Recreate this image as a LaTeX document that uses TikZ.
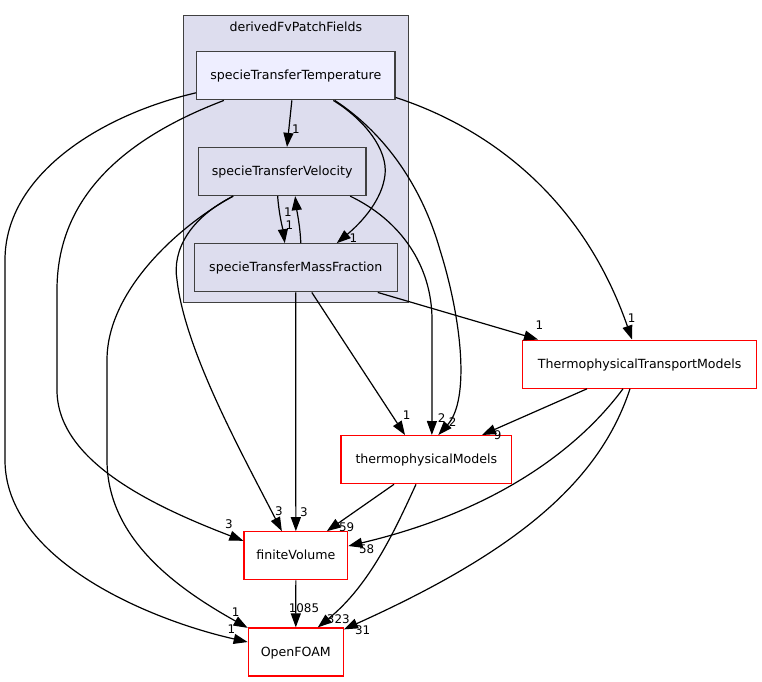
\documentclass[tikz,border=0pt]{standalone}
\usepackage{fontspec}
\setmainfont{DejaVu Sans}
\usetikzlibrary{arrows.meta}
\definecolor{clfill}{HTML}{DDDDEE}
\definecolor{clborder}{HTML}{404040}
\definecolor{topfill}{HTML}{EEEEFF}
\tikzset{
  box/.style={draw, line width=1.3pt, inner sep=0pt, minimum height=48pt,
    font=\fontsize{12.6}{14}\selectfont, text height=9.5pt, text depth=1.3pt},
  inbox/.style={box, draw=clborder, fill=clfill},
  redbox/.style={box, draw=red, fill=white},
  e/.style={draw=black, line width=1.2pt, -{Triangle[length=14pt,width=10pt]}},
  lbl/.style={inner sep=0pt, font=\fontsize{11.9}{13}\selectfont}
}
\begin{document}
\begin{tikzpicture}[x=1pt,y=-1pt]
\useasboundingbox (0,0) rectangle (762,681);
% cluster
\node[draw=clborder, fill=clfill, line width=1.3pt, minimum width=225pt, minimum height=286.6pt, inner sep=0pt] (cl) at (295.8,159) {};
\node[anchor=base, inner sep=0pt, font=\fontsize{12.6}{14}\selectfont] (cllbl) at (295.8,31) {derivedFvPatchFields};
% nodes
\node[inbox, fill=topfill, minimum width=198.3pt] (T) at (295.85,75.8) {specieTransferTemperature};
\node[inbox, minimum width=167.7pt] (V) at (282.15,171.5) {specieTransferVelocity};
\node[inbox, minimum width=203pt] (M) at (295.8,267.8) {specieTransferMassFraction};
\node[redbox, minimum width=234pt] (TTM) at (639.7,364.15) {ThermophysicalTransportModels};
\node[redbox, minimum width=170.7pt] (tM) at (426.35,459.65) {thermophysicalModels};
\node[redbox, minimum width=103.7pt] (fV) at (295.85,555.8) {finiteVolume};
\node[redbox, minimum width=95pt] (OF) at (295.8,652) {OpenFOAM};
% edges
\draw[e] ([xshift=-4pt]T.south) -- ([xshift=4.85pt]V.north);
\draw[e] ([xshift=-4.5pt]V.south) .. controls (279,215) and (283,230) .. ([xshift=-11pt]M.north);
\draw[e] ([xshift=5pt]M.north) .. controls (300,225) and (297,212) .. ([xshift=13pt]V.south);
\draw[e] ([xshift=37.5pt]T.south) .. controls (365,120) and (388,150) .. (385,175) .. controls (382,200) and (362,222) .. ([xshift=41pt]M.north);
\draw[e] ([xshift=39pt]T.south) .. controls (380,130) and (420,180) .. (440,250) .. controls (462,320) and (470,400) .. ([xshift=12pt]tM.north);
\draw[e] ([xshift=68pt]V.south) .. controls (400,220) and (432,265) .. (432,320) .. controls (432,370) and (432,400) .. ([xshift=5.5pt]tM.north);
\draw[e] ([yshift=3pt]T.south east) .. controls (480,125) and (580,190) .. ([xshift=-7.7pt]TTM.north);
\draw[e] ([xshift=82pt]M.south) -- ([xshift=-101.7pt]TTM.north);
\draw[e] ([xshift=16pt]M.south) -- ([xshift=-21.35pt]tM.north);
\draw[e] (M.south) -- (fV.north);
\draw[e] ([xshift=-52.7pt]TTM.south) -- ([xshift=55.65pt]tM.north);
\draw[e] ([xshift=-16.7pt]TTM.south) .. controls (570,460) and (480,515) .. ([yshift=9.8pt]fV.east);
\draw[e] ([xshift=-9.7pt]TTM.south) .. controls (600,480) and (520,550) .. ([yshift=-2pt]OF.north east);
\draw[e] ([xshift=-32.35pt]tM.south) -- ([xshift=31pt]fV.north);
\draw[e] ([xshift=-10.35pt]tM.south) .. controls (395,530) and (370,585) .. ([xshift=22pt]OF.north);
\draw[e] (fV.south) -- (OF.north);
\draw[e] ([xshift=-72pt]T.south) .. controls (120,140) and (57,200) .. (57,290) -- (57,390) .. controls (57,460) and (150,505) .. ([yshift=15pt]fV.west);
\draw[e] ([yshift=-17pt]T.west) .. controls (100,115) and (5,175) .. (5,260) -- (5,460) .. controls (5,560) and (150,620) .. ([yshift=10pt]OF.west);
\draw[e] ([xshift=-49pt]V.south) .. controls (180,225) and (107,290) .. (107,360) -- (107,460) .. controls (107,540) and (180,590) .. ([yshift=-0.5pt]OF.north west);
\draw[e] ([xshift=-49pt]V.south) .. controls (190,218) and (172,250) .. (177,280) .. controls (185,350) and (240,450) .. ([xshift=-14pt]fV.north);
% labels
\node[lbl] (l1) at (296,129.3) {1};
\node[lbl] (l2) at (288,212) {1};
\node[lbl] (l3) at (289.5,225.5) {1};
\node[lbl] (l4) at (353.3,238.3) {1};
\node[lbl] (l5) at (441.7,418.3) {2};
\node[lbl] (l6) at (452.7,421.7) {2};
\node[lbl] (l7) at (631.7,318.3) {1};
\node[lbl] (l8) at (539.3,325.3) {1};
\node[lbl] (l9) at (406.7,415) {1};
\node[lbl] (l10) at (304,512.3) {3};
\node[lbl] (l11) at (497.7,435) {9};
\node[lbl] (l12) at (366.7,549.3) {58};
\node[lbl] (l13) at (362.7,630) {31};
\node[lbl] (l14) at (346.7,526.7) {59};
\node[lbl] (l15) at (338.3,619.3) {323};
\node[lbl] (l16) at (304,608.3) {1085};
\node[lbl] (l17) at (229,524.3) {3};
\node[lbl] (l18) at (279,511) {3};
\node[lbl] (l19) at (235.7,611.7) {1};
\node[lbl] (l20) at (231.3,629.3) {1};
\end{tikzpicture}
\end{document}
